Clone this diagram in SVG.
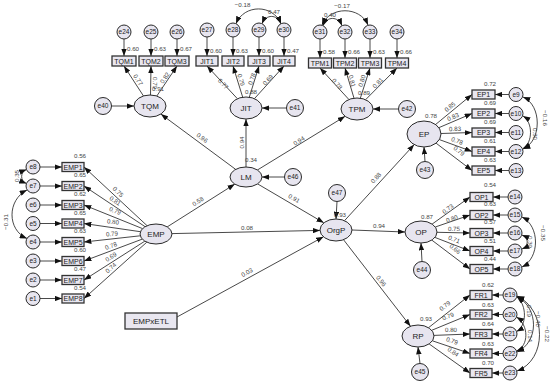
<svg xmlns="http://www.w3.org/2000/svg" width="550" height="384" viewBox="0 0 550 384">
<defs>
<marker id="ah" viewBox="0 0 8 6" refX="8" refY="3" markerWidth="7.5" markerHeight="5.5" markerUnits="userSpaceOnUse" orient="auto-start-reverse"><path d="M0,0 L8,3 L0,6 z" fill="#111"/></marker>
<style>
.lat{fill:#e7e5ef;stroke:#2a2a2a;stroke-width:1}
.obs{fill:#e9e7f0;stroke:#333;stroke-width:1.3}
#connectors line,#connectors path{stroke:#1a1a1a;stroke-width:0.8;fill:none;marker-end:url(#ah)}
#connectors path.cov{marker-start:url(#ah)}
text{font-family:"Liberation Sans",Arial,sans-serif;fill:#222;text-anchor:middle}
.nl{font-size:8px}
.bl{font-size:7px}
.el{font-size:6.5px}
.n{font-size:6.2px;fill:#444}
.s{text-anchor:start}
</style>
</defs>
<rect width="550" height="384" fill="#fff"/>

<g id="connectors">
<line x1="235.7" y1="169.4" x2="160.9" y2="114.1"/>
<line x1="246" y1="167" x2="246" y2="119"/>
<line x1="257.4" y1="170" x2="345.1" y2="116.3"/>
<line x1="167.2" y1="226.9" x2="234.8" y2="184.1"/>
<line x1="172" y1="233.6" x2="320" y2="230.4"/>
<line x1="257.6" y1="183.9" x2="323.8" y2="222.8"/>
<line x1="177" y1="317" x2="323.5" y2="236.8"/>
<line x1="344.5" y1="220.7" x2="414.2" y2="144.6"/>
<line x1="352" y1="230" x2="405" y2="232"/>
<line x1="343.5" y1="239.7" x2="410.5" y2="326.3"/>
<line x1="111.5" y1="106" x2="134" y2="106"/>
<line x1="286.5" y1="108" x2="262" y2="108"/>
<line x1="398.5" y1="109" x2="373" y2="109"/>
<line x1="284.5" y1="177" x2="262" y2="177"/>
<line x1="337" y1="201.5" x2="336" y2="219"/>
<line x1="425" y1="161.5" x2="424" y2="147"/>
<line x1="422" y1="261.5" x2="421" y2="243"/>
<line x1="420" y1="363.5" x2="418" y2="347"/>
<line x1="143.5" y1="96" x2="124" y2="66"/>
<line x1="150.5" y1="95" x2="151" y2="66"/>
<line x1="156.8" y1="96" x2="177" y2="66"/>
<line x1="124" y1="39" x2="124" y2="56"/>
<line x1="151" y1="39" x2="151" y2="56"/>
<line x1="177" y1="39" x2="177" y2="56"/>
<line x1="237.4" y1="98.7" x2="207" y2="66"/>
<line x1="242.7" y1="97.2" x2="233" y2="66"/>
<line x1="249.3" y1="97.2" x2="259" y2="66"/>
<line x1="254.4" y1="98.7" x2="284" y2="66"/>
<line x1="207" y1="37" x2="207" y2="56"/>
<line x1="233" y1="37" x2="233" y2="56"/>
<line x1="259" y1="37" x2="259" y2="56"/>
<line x1="284" y1="37" x2="284" y2="56"/>
<path class="cov" d="M236,23.7 C244,4 273,4 281,23.7"/>
<path class="cov" d="M262,23.7 C266,14 277,14 281,23.7"/>
<line x1="348.9" y1="99.5" x2="320" y2="68"/>
<line x1="354" y1="98.2" x2="345" y2="68"/>
<line x1="360.3" y1="98.3" x2="370" y2="68"/>
<line x1="365.6" y1="99.7" x2="397" y2="68"/>
<line x1="320" y1="39" x2="320" y2="58"/>
<line x1="345" y1="39" x2="345" y2="58"/>
<line x1="370" y1="39" x2="370" y2="58"/>
<line x1="397" y1="39" x2="397" y2="58"/>
<path class="cov" d="M323,25.7 C327,16 338,16 342,25.7"/>
<path class="cov" d="M322,25 C330,6 360,6 368,25"/>
<line x1="147.1" y1="225.7" x2="84" y2="167"/>
<line x1="145.1" y1="226.7" x2="84" y2="186"/>
<line x1="142.5" y1="228.6" x2="84" y2="205"/>
<line x1="140.4" y1="231.7" x2="84" y2="223.5"/>
<line x1="140.2" y1="235.8" x2="84" y2="242"/>
<line x1="142.3" y1="239.1" x2="84" y2="261"/>
<line x1="144.8" y1="241.2" x2="84" y2="280"/>
<line x1="146.8" y1="242.2" x2="84" y2="298.5"/>
<line x1="40" y1="167" x2="62" y2="167"/>
<line x1="40" y1="186" x2="62" y2="186"/>
<line x1="40" y1="205" x2="62" y2="205"/>
<line x1="40" y1="223.5" x2="62" y2="223.5"/>
<line x1="40" y1="242" x2="62" y2="242"/>
<line x1="40" y1="261" x2="62" y2="261"/>
<line x1="40" y1="280" x2="62" y2="280"/>
<line x1="40" y1="298.5" x2="62" y2="298.5"/>
<path class="cov" d="M26.5,169.5 C20,172 20,181 26.5,183.5"/>
<path class="cov" d="M27,190 C7,200 7,230 27,238.5"/>
<line x1="435.6" y1="124.5" x2="472" y2="94.5"/>
<line x1="438.8" y1="127.7" x2="472" y2="113.5"/>
<line x1="441" y1="133.5" x2="472" y2="132.5"/>
<line x1="439.4" y1="139.6" x2="472" y2="151.5"/>
<line x1="436.1" y1="143.2" x2="472" y2="170.5"/>
<line x1="509" y1="94.5" x2="495" y2="94.5"/>
<line x1="509" y1="113.5" x2="495" y2="113.5"/>
<line x1="509" y1="132.5" x2="495" y2="132.5"/>
<line x1="509" y1="151.5" x2="495" y2="151.5"/>
<line x1="509" y1="170.5" x2="495" y2="170.5"/>
<path class="cov" d="M523,97 C542,105 542,141 523,149"/>
<path class="cov" d="M523,116 C533,122 533,143 523,148.5"/>
<line x1="432.1" y1="224.1" x2="470" y2="197"/>
<line x1="435.3" y1="227" x2="470" y2="215"/>
<line x1="437" y1="232.3" x2="470" y2="233"/>
<line x1="434.9" y1="237.4" x2="470" y2="251"/>
<line x1="431.8" y1="240.1" x2="470" y2="269"/>
<line x1="508" y1="197" x2="493" y2="197"/>
<line x1="508" y1="215" x2="493" y2="215"/>
<line x1="508" y1="233" x2="493" y2="233"/>
<line x1="508" y1="251" x2="493" y2="251"/>
<line x1="508" y1="269" x2="493" y2="269"/>
<path class="cov" d="M522,217 C540,226 540,258 522,267"/>
<path class="cov" d="M522,235 C529,238 529,246 522,249"/>
<line x1="428.5" y1="327.7" x2="470" y2="295"/>
<line x1="431.7" y1="330.3" x2="470" y2="314.5"/>
<line x1="434" y1="335.4" x2="470" y2="334"/>
<line x1="432.4" y1="340.8" x2="470" y2="353.5"/>
<line x1="429.1" y1="343.9" x2="470" y2="373"/>
<line x1="503" y1="295" x2="492" y2="295"/>
<line x1="503" y1="314.5" x2="492" y2="314.5"/>
<line x1="503" y1="334" x2="492" y2="334"/>
<line x1="503" y1="353.5" x2="492" y2="353.5"/>
<line x1="503" y1="373" x2="492" y2="373"/>
<path class="cov" d="M517,297 C527,305 527,326 516.5,331.5"/>
<path class="cov" d="M516.5,317 C529,325 529,346 516.5,351"/>
<path class="cov" d="M517,296.5 C539,308 539,342 517,352"/>
<path class="cov" d="M517,296 C547,310 547,360 517,371"/>
</g>

<g id="labels">
<text class="n" transform="translate(202,138) rotate(36.5)" y="2">0.96</text>
<text class="n" transform="translate(241.5,142.5) rotate(-90)" y="2">0.94</text>
<text class="n" transform="translate(299,141) rotate(-31.5)" y="2">0.94</text>
<text class="n" transform="translate(198,201.5) rotate(-32)" y="2">0.58</text>
<text class="n" x="247" y="229.5">0.08</text>
<text class="n" transform="translate(294,198.5) rotate(30.5)" y="2">0.91</text>
<text class="n" transform="translate(376,178) rotate(-47.5)" y="2">0.88</text>
<text class="n" x="379" y="228">0.94</text>
<text class="n" transform="translate(381,281) rotate(52)" y="2">0.96</text>
<text class="n" transform="translate(247,272.5) rotate(-29)" y="2">0.03</text>
<text class="n s" x="152" y="91">0.91</text>
<text class="n s" x="245" y="94">0.88</text>
<text class="n s" x="358" y="95">0.89</text>
<text class="n s" x="245" y="162">0.34</text>
<text class="n s" x="334" y="217">0.93</text>
<text class="n" x="431" y="118">0.78</text>
<text class="n" x="427" y="219">0.87</text>
<text class="n" x="426" y="321">0.93</text>
<text class="n" transform="translate(138,80) rotate(57)" y="2">0.77</text>
<text class="n" transform="translate(155,83) rotate(90)" y="2">0.79</text>
<text class="n" transform="translate(165,78) rotate(-56)" y="2">0.82</text>
<text class="n s" x="127" y="51">0.60</text>
<text class="n s" x="154" y="51">0.63</text>
<text class="n s" x="180" y="51">0.67</text>
<text class="n" transform="translate(223,84) rotate(47)" y="2">0.77</text>
<text class="n" transform="translate(241,80) rotate(72.7)" y="2">0.79</text>
<text class="n" transform="translate(252,79) rotate(-72.7)" y="2">0.78</text>
<text class="n" transform="translate(268,80) rotate(-47.8)" y="2">0.69</text>
<text class="n s" x="210" y="52.5">0.60</text>
<text class="n s" x="236" y="52.5">0.63</text>
<text class="n s" x="262" y="52.5">0.60</text>
<text class="n s" x="287" y="52.5">0.47</text>
<text class="n" x="242.5" y="7">−0.18</text>
<text class="n" x="274" y="14">0.47</text>
<text class="n" transform="translate(337,84) rotate(49)" y="2">0.78</text>
<text class="n" transform="translate(352,81) rotate(75)" y="2">0.81</text>
<text class="n" transform="translate(362,81) rotate(-73)" y="2">0.80</text>
<text class="n" transform="translate(378,83) rotate(-47)" y="2">0.81</text>
<text class="n s" x="323" y="54">0.58</text>
<text class="n s" x="348" y="54">0.66</text>
<text class="n s" x="373" y="54">0.63</text>
<text class="n s" x="400" y="54">0.66</text>
<text class="n" x="330" y="17">0.40</text>
<text class="n" x="342" y="7.5">−0.17</text>
<text class="n" transform="translate(118,192) rotate(43)" y="2">0.75</text>
<text class="n" transform="translate(115,201) rotate(34)" y="2">0.81</text>
<text class="n" transform="translate(115,211) rotate(22)" y="2">0.79</text>
<text class="n" transform="translate(113,222) rotate(8)" y="2">0.80</text>
<text class="n" transform="translate(112,234) rotate(-6)" y="2">0.79</text>
<text class="n" transform="translate(111,246) rotate(-21)" y="2">0.78</text>
<text class="n" transform="translate(111,257) rotate(-32)" y="2">0.69</text>
<text class="n" transform="translate(111,268) rotate(-42)" y="2">0.74</text>
<text class="n" x="80" y="158">0.56</text>
<text class="n" x="80" y="177">0.65</text>
<text class="n" x="80" y="196">0.62</text>
<text class="n" x="80" y="214.5">0.65</text>
<text class="n" x="80" y="233">0.63</text>
<text class="n" x="80" y="252">0.60</text>
<text class="n" x="80" y="271">0.47</text>
<text class="n" x="80" y="289.5">0.54</text>
<text class="n" transform="translate(17,176) rotate(-90)" y="2">0.35</text>
<text class="n" transform="translate(6,222) rotate(-90)" y="2">−0.31</text>
<text class="n" transform="translate(450,107) rotate(-39.5)" y="2">0.85</text>
<text class="n" transform="translate(453,117) rotate(-23)" y="2">0.83</text>
<text class="n" transform="translate(455,129) rotate(-2)" y="2">0.83</text>
<text class="n" transform="translate(457,141) rotate(20)" y="2">0.78</text>
<text class="n" transform="translate(459,151) rotate(37)" y="2">0.79</text>
<text class="n" x="490" y="86">0.72</text>
<text class="n" x="490" y="105">0.69</text>
<text class="n" x="490" y="124">0.69</text>
<text class="n" x="490" y="143">0.61</text>
<text class="n" x="490" y="162">0.63</text>
<text class="n" transform="translate(545,118) rotate(90)" y="2">−0.16</text>
<text class="n" transform="translate(535,134) rotate(90)" y="2">0.30</text>
<text class="n" transform="translate(448,209) rotate(-35.6)" y="2">0.73</text>
<text class="n" transform="translate(452,219) rotate(-19)" y="2">0.80</text>
<text class="n" transform="translate(454,229) rotate(1)" y="2">0.75</text>
<text class="n" transform="translate(454,239.5) rotate(21)" y="2">0.71</text>
<text class="n" transform="translate(455,249) rotate(37)" y="2">0.66</text>
<text class="n" x="490" y="187">0.54</text>
<text class="n" x="490" y="206">0.63</text>
<text class="n" x="490" y="224">0.57</text>
<text class="n" x="490" y="242.5">0.51</text>
<text class="n" x="490" y="260.5">0.44</text>
<text class="n" transform="translate(543,233) rotate(90)" y="2">−0.35</text>
<text class="n" transform="translate(530,242) rotate(90)" y="2">0.39</text>
<text class="n" transform="translate(445,306) rotate(-38)" y="2">0.79</text>
<text class="n" transform="translate(448,316.5) rotate(-22)" y="2">0.79</text>
<text class="n" transform="translate(451,330) rotate(-1)" y="2">0.80</text>
<text class="n" transform="translate(452,341) rotate(19)" y="2">0.79</text>
<text class="n" transform="translate(453,352) rotate(35)" y="2">0.84</text>
<text class="n" x="488" y="287">0.62</text>
<text class="n" x="488" y="306.5">0.63</text>
<text class="n" x="488" y="326">0.64</text>
<text class="n" x="488" y="345.5">0.63</text>
<text class="n" x="488" y="365">0.70</text>
<text class="n" transform="translate(529,311) rotate(90)" y="2">0.19</text>
<text class="n" transform="translate(538,319) rotate(90)" y="2">−0.40</text>
<text class="n" transform="translate(530,336) rotate(90)" y="2">0.14</text>
<text class="n" transform="translate(547,334) rotate(90)" y="2">−0.22</text>
</g>

<g id="TQM"><ellipse class="lat" cx="150" cy="106" rx="16" ry="11"/><text class="nl" x="150" y="109">TQM</text></g>
<g id="JIT"><ellipse class="lat" cx="246" cy="108" rx="16" ry="11"/><text class="nl" x="246" y="111">JIT</text></g>
<g id="TPM"><ellipse class="lat" cx="357" cy="109" rx="16" ry="11"/><text class="nl" x="357" y="112">TPM</text></g>
<g id="LM"><ellipse class="lat" cx="246" cy="177" rx="16" ry="10"/><text class="nl" x="246" y="180">LM</text></g>
<g id="EMP"><ellipse class="lat" cx="156" cy="234" rx="16" ry="10"/><text class="nl" x="156" y="237">EMP</text></g>
<g id="OrgP"><ellipse class="lat" cx="336" cy="230" rx="16" ry="11"/><text class="nl" x="336" y="233">OrgP</text></g>
<g id="EP"><ellipse class="lat" cx="424" cy="134" rx="17" ry="13"/><text class="nl" x="424" y="137">EP</text></g>
<g id="OP"><ellipse class="lat" cx="421" cy="232" rx="16" ry="11"/><text class="nl" x="421" y="235">OP</text></g>
<g id="RP"><ellipse class="lat" cx="418" cy="336" rx="16" ry="11"/><text class="nl" x="418" y="339">RP</text></g>
<g id="EMPxETL"><rect class="obs" x="125" y="313" width="52" height="16"/><text class="nl" x="151" y="323.5">EMPxETL</text></g>

<g id="e40"><circle class="lat" cx="103" cy="106" r="8.5"/><text class="el" x="103" y="108.3">e40</text></g>
<g id="e41"><circle class="lat" cx="295" cy="108" r="8.5"/><text class="el" x="295" y="110.3">e41</text></g>
<g id="e42"><circle class="lat" cx="407" cy="109" r="8.5"/><text class="el" x="407" y="111.3">e42</text></g>
<g id="e46"><circle class="lat" cx="293" cy="177" r="8.5"/><text class="el" x="293" y="179.3">e46</text></g>
<g id="e47"><circle class="lat" cx="337" cy="193" r="8.5"/><text class="el" x="337" y="195.3">e47</text></g>
<g id="e43"><circle class="lat" cx="425" cy="170" r="8.5"/><text class="el" x="425" y="172.3">e43</text></g>
<g id="e44"><circle class="lat" cx="422" cy="270" r="8.5"/><text class="el" x="422" y="272.3">e44</text></g>
<g id="e45"><circle class="lat" cx="420" cy="372" r="8.5"/><text class="el" x="420" y="374.3">e45</text></g>

<g id="TQM1"><rect class="obs" x="112" y="56" width="24" height="10"/><text class="bl" x="124" y="63.5">TQM1</text></g>
<g id="TQM2"><rect class="obs" x="139" y="56" width="24" height="10"/><text class="bl" x="151" y="63.5">TQM2</text></g>
<g id="TQM3"><rect class="obs" x="165" y="56" width="24" height="10"/><text class="bl" x="177" y="63.5">TQM3</text></g>
<g id="e24"><circle class="lat" cx="124" cy="32" r="7"/><text class="el" x="124" y="34.3">e24</text></g>
<g id="e25"><circle class="lat" cx="151" cy="32" r="7"/><text class="el" x="151" y="34.3">e25</text></g>
<g id="e26"><circle class="lat" cx="177" cy="32" r="7"/><text class="el" x="177" y="34.3">e26</text></g>

<g id="JIT1"><rect class="obs" x="196" y="56" width="22" height="10"/><text class="bl" x="207" y="63.5">JIT1</text></g>
<g id="JIT2"><rect class="obs" x="222" y="56" width="22" height="10"/><text class="bl" x="233" y="63.5">JIT2</text></g>
<g id="JIT3"><rect class="obs" x="248" y="56" width="22" height="10"/><text class="bl" x="259" y="63.5">JIT3</text></g>
<g id="JIT4"><rect class="obs" x="273" y="56" width="22" height="10"/><text class="bl" x="284" y="63.5">JIT4</text></g>
<g id="e27"><circle class="lat" cx="207" cy="30" r="7"/><text class="el" x="207" y="32.3">e27</text></g>
<g id="e28"><circle class="lat" cx="233" cy="30" r="7"/><text class="el" x="233" y="32.3">e28</text></g>
<g id="e29"><circle class="lat" cx="259" cy="30" r="7"/><text class="el" x="259" y="32.3">e29</text></g>
<g id="e30"><circle class="lat" cx="284" cy="30" r="7"/><text class="el" x="284" y="32.3">e30</text></g>

<g id="TPM1"><rect class="obs" x="308.5" y="58" width="23" height="10"/><text class="bl" x="320" y="65.5">TPM1</text></g>
<g id="TPM2"><rect class="obs" x="333.5" y="58" width="23" height="10"/><text class="bl" x="345" y="65.5">TPM2</text></g>
<g id="TPM3"><rect class="obs" x="358.5" y="58" width="23" height="10"/><text class="bl" x="370" y="65.5">TPM3</text></g>
<g id="TPM4"><rect class="obs" x="385.5" y="58" width="23" height="10"/><text class="bl" x="397" y="65.5">TPM4</text></g>
<g id="e31"><circle class="lat" cx="320" cy="32" r="7"/><text class="el" x="320" y="34.3">e31</text></g>
<g id="e32"><circle class="lat" cx="345" cy="32" r="7"/><text class="el" x="345" y="34.3">e32</text></g>
<g id="e33"><circle class="lat" cx="370" cy="32" r="7"/><text class="el" x="370" y="34.3">e33</text></g>
<g id="e34"><circle class="lat" cx="397" cy="32" r="7"/><text class="el" x="397" y="34.3">e34</text></g>

<g id="EMP1"><rect class="obs" x="62" y="162.5" width="22" height="9"/><text class="bl" x="73" y="169.5">EMP1</text></g>
<g id="EMP2"><rect class="obs" x="62" y="181.5" width="22" height="9"/><text class="bl" x="73" y="188.5">EMP2</text></g>
<g id="EMP3"><rect class="obs" x="62" y="200.5" width="22" height="9"/><text class="bl" x="73" y="207.5">EMP3</text></g>
<g id="EMP4"><rect class="obs" x="62" y="219" width="22" height="9"/><text class="bl" x="73" y="226">EMP4</text></g>
<g id="EMP5"><rect class="obs" x="62" y="237.5" width="22" height="9"/><text class="bl" x="73" y="244.5">EMP5</text></g>
<g id="EMP6"><rect class="obs" x="62" y="256.5" width="22" height="9"/><text class="bl" x="73" y="263.5">EMP6</text></g>
<g id="EMP7"><rect class="obs" x="62" y="275.5" width="22" height="9"/><text class="bl" x="73" y="282.5">EMP7</text></g>
<g id="EMP8"><rect class="obs" x="62" y="294" width="22" height="9"/><text class="bl" x="73" y="301">EMP8</text></g>
<g id="e8"><circle class="lat" cx="33" cy="167" r="7"/><text class="el" x="33" y="169.3">e8</text></g>
<g id="e7"><circle class="lat" cx="33" cy="186" r="7"/><text class="el" x="33" y="188.3">e7</text></g>
<g id="e6"><circle class="lat" cx="33" cy="205" r="7"/><text class="el" x="33" y="207.3">e6</text></g>
<g id="e5"><circle class="lat" cx="33" cy="223.5" r="7"/><text class="el" x="33" y="225.8">e5</text></g>
<g id="e4"><circle class="lat" cx="33" cy="242" r="7"/><text class="el" x="33" y="244.3">e4</text></g>
<g id="e3"><circle class="lat" cx="33" cy="261" r="7"/><text class="el" x="33" y="263.3">e3</text></g>
<g id="e2"><circle class="lat" cx="33" cy="280" r="7"/><text class="el" x="33" y="282.3">e2</text></g>
<g id="e1"><circle class="lat" cx="33" cy="298.5" r="7"/><text class="el" x="33" y="300.8">e1</text></g>

<g id="EP1"><rect class="obs" x="472" y="90" width="23" height="9"/><text class="bl" x="483.5" y="97">EP1</text></g>
<g id="EP2"><rect class="obs" x="472" y="109" width="23" height="9"/><text class="bl" x="483.5" y="116">EP2</text></g>
<g id="EP3"><rect class="obs" x="472" y="128" width="23" height="9"/><text class="bl" x="483.5" y="135">EP3</text></g>
<g id="EP4"><rect class="obs" x="472" y="147" width="23" height="9"/><text class="bl" x="483.5" y="154">EP4</text></g>
<g id="EP5"><rect class="obs" x="472" y="166" width="23" height="9"/><text class="bl" x="483.5" y="173">EP5</text></g>
<g id="e9"><circle class="lat" cx="516" cy="94.5" r="7"/><text class="el" x="516" y="96.8">e9</text></g>
<g id="e10"><circle class="lat" cx="516" cy="113.5" r="7"/><text class="el" x="516" y="115.8">e10</text></g>
<g id="e11"><circle class="lat" cx="516" cy="132.5" r="7"/><text class="el" x="516" y="134.8">e11</text></g>
<g id="e12"><circle class="lat" cx="516" cy="151.5" r="7"/><text class="el" x="516" y="153.8">e12</text></g>
<g id="e13"><circle class="lat" cx="516" cy="170.5" r="7"/><text class="el" x="516" y="172.8">e13</text></g>

<g id="OP1"><rect class="obs" x="470" y="192.5" width="23" height="9"/><text class="bl" x="481.5" y="199.5">OP1</text></g>
<g id="OP2"><rect class="obs" x="470" y="210.5" width="23" height="9"/><text class="bl" x="481.5" y="217.5">OP2</text></g>
<g id="OP3"><rect class="obs" x="470" y="228.5" width="23" height="9"/><text class="bl" x="481.5" y="235.5">OP3</text></g>
<g id="OP4"><rect class="obs" x="470" y="246.5" width="23" height="9"/><text class="bl" x="481.5" y="253.5">OP4</text></g>
<g id="OP5"><rect class="obs" x="470" y="264.5" width="23" height="9"/><text class="bl" x="481.5" y="271.5">OP5</text></g>
<g id="e14"><circle class="lat" cx="515" cy="197" r="7"/><text class="el" x="515" y="199.3">e14</text></g>
<g id="e15"><circle class="lat" cx="515" cy="215" r="7"/><text class="el" x="515" y="217.3">e15</text></g>
<g id="e16"><circle class="lat" cx="515" cy="233" r="7"/><text class="el" x="515" y="235.3">e16</text></g>
<g id="e17"><circle class="lat" cx="515" cy="251" r="7"/><text class="el" x="515" y="253.3">e17</text></g>
<g id="e18"><circle class="lat" cx="515" cy="269" r="7"/><text class="el" x="515" y="271.3">e18</text></g>

<g id="FR1"><rect class="obs" x="470" y="290.5" width="22" height="9"/><text class="bl" x="481" y="297.5">FR1</text></g>
<g id="FR2"><rect class="obs" x="470" y="310" width="22" height="9"/><text class="bl" x="481" y="317">FR2</text></g>
<g id="FR3"><rect class="obs" x="470" y="329.5" width="22" height="9"/><text class="bl" x="481" y="336.5">FR3</text></g>
<g id="FR4"><rect class="obs" x="470" y="349" width="22" height="9"/><text class="bl" x="481" y="356">FR4</text></g>
<g id="FR5"><rect class="obs" x="470" y="368.5" width="22" height="9"/><text class="bl" x="481" y="375.5">FR5</text></g>
<g id="e19"><circle class="lat" cx="510" cy="295" r="7"/><text class="el" x="510" y="297.3">e19</text></g>
<g id="e20"><circle class="lat" cx="510" cy="314.5" r="7"/><text class="el" x="510" y="316.8">e20</text></g>
<g id="e21"><circle class="lat" cx="510" cy="334" r="7"/><text class="el" x="510" y="336.3">e21</text></g>
<g id="e22"><circle class="lat" cx="510" cy="353.5" r="7"/><text class="el" x="510" y="355.8">e22</text></g>
<g id="e23"><circle class="lat" cx="510" cy="373" r="7"/><text class="el" x="510" y="375.3">e23</text></g>
</svg>
